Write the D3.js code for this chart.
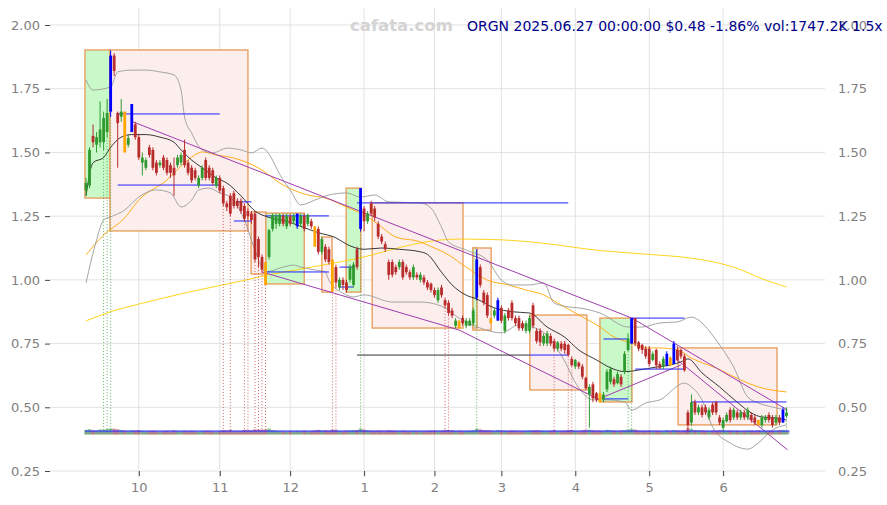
<!DOCTYPE html>
<html><head><meta charset="utf-8">
<script src="https://cdn.jsdelivr.net/npm/d3@7"></script>
<style>body{margin:0;background:#fff;}svg{display:block;font-family:"DejaVu Sans",sans-serif;}</style>
</head><body><svg id="c" width="887" height="505"></svg>
<script>
// ---- data ----
const openP = [1.35,1.37,1.565,1.53,1.54,1.54,1.58,1.66,1.88,1.655,1.64,1.66,1.53,1.58,1.61,1.56,1.46,1.44,1.52,1.51,1.46,1.45,1.48,1.47,1.45,1.44,1.45,1.46,1.51,1.46,1.44,1.43,1.37,1.40,1.47,1.44,1.43,1.37,1.40,1.36,1.30,1.33,1.34,1.31,1.31,1.29,1.27,1.26,1.26,1.16,1.09,1.07,1.09,1.20,1.22,1.22,1.25,1.21,1.25,1.23,1.21,1.22,1.25,1.22,1.23,1.21,1.20,1.11,1.13,1.12,1.08,1.05,0.97,1.00,0.99,1.00,0.98,1.12,1.20,1.28,1.23,1.30,1.28,1.22,1.17,1.14,1.07,1.07,1.05,1.05,1.07,1.05,1.03,1.01,1.02,1.00,1.01,0.99,0.985,0.96,0.92,0.97,0.92,0.91,0.88,0.82,0.84,0.85,0.82,0.82,0.83,0.93,1.05,0.95,0.94,0.85,0.86,0.84,0.89,0.80,0.88,0.91,0.85,0.85,0.83,0.80,0.80,0.90,0.80,0.80,0.75,0.75,0.78,0.76,0.73,0.75,0.75,0.745,0.69,0.66,0.675,0.66,0.615,0.55,0.59,0.555,0.555,0.53,0.57,0.60,0.61,0.595,0.62,0.64,0.725,0.75,0.85,0.755,0.745,0.73,0.73,0.686,0.725,0.67,0.66,0.665,0.695,0.67,0.725,0.725,0.70,0.48,0.44,0.52,0.48,0.50,0.50,0.46,0.51,0.52,0.46,0.42,0.445,0.49,0.46,0.48,0.46,0.48,0.46,0.47,0.46,0.45,0.43,0.45,0.47,0.46,0.44,0.46,0.44,0.465];
const highP = [1.40,1.52,1.61,1.58,1.70,1.66,1.71,1.90,1.89,1.66,1.71,1.66,1.57,1.69,1.62,1.57,1.50,1.48,1.53,1.52,1.47,1.47,1.49,1.48,1.46,1.48,1.49,1.50,1.55,1.47,1.45,1.44,1.41,1.45,1.48,1.45,1.44,1.41,1.41,1.37,1.31,1.34,1.35,1.32,1.32,1.30,1.28,1.27,1.27,1.17,1.10,1.07,1.20,1.26,1.26,1.26,1.26,1.26,1.26,1.26,1.26,1.26,1.26,1.26,1.24,1.21,1.21,1.17,1.14,1.13,1.08,1.06,1.01,1.01,1.00,1.06,1.07,1.13,1.36,1.29,1.27,1.31,1.29,1.23,1.18,1.15,1.08,1.08,1.06,1.08,1.08,1.06,1.04,1.06,1.03,1.03,1.02,1.00,0.99,0.97,0.97,0.98,0.93,0.92,0.89,0.85,0.84,0.86,0.85,0.85,0.89,1.12,1.06,0.96,0.95,0.85,0.89,0.93,0.90,0.87,0.89,0.92,0.86,0.86,0.84,0.84,0.86,0.91,0.81,0.81,0.79,0.80,0.79,0.77,0.76,0.76,0.76,0.75,0.70,0.69,0.68,0.67,0.62,0.59,0.60,0.56,0.555,0.56,0.65,0.66,0.62,0.64,0.63,0.72,0.79,0.85,0.85,0.76,0.75,0.74,0.74,0.72,0.73,0.68,0.70,0.72,0.70,0.76,0.74,0.73,0.71,0.49,0.55,0.53,0.51,0.51,0.51,0.50,0.52,0.525,0.47,0.46,0.48,0.50,0.50,0.49,0.49,0.49,0.50,0.48,0.47,0.45,0.47,0.47,0.48,0.47,0.47,0.47,0.50,0.50];
const lowP = [1.33,1.36,1.52,1.50,1.52,1.51,1.56,1.64,1.80,1.44,1.62,1.50,1.52,1.58,1.55,1.47,1.41,1.43,1.48,1.43,1.41,1.44,1.43,1.41,1.40,1.33,1.44,1.45,1.44,1.41,1.38,1.39,1.36,1.39,1.39,1.39,1.37,1.36,1.34,1.29,1.27,1.25,1.28,1.28,1.26,1.23,1.24,1.22,1.07,1.05,1.03,0.98,1.08,1.19,1.20,1.21,1.21,1.20,1.21,1.22,1.20,1.21,1.19,1.21,1.20,1.13,1.10,1.10,1.07,1.06,0.955,0.97,0.96,0.96,0.95,0.99,0.97,1.04,1.19,1.19,1.22,1.25,1.23,1.16,1.14,1.11,1.00,1.01,1.02,1.04,1.00,1.02,1.00,1.00,1.00,0.99,0.98,0.96,0.95,0.93,0.91,0.93,0.89,0.86,0.85,0.81,0.81,0.82,0.81,0.82,0.82,0.92,0.97,0.90,0.85,0.83,0.85,0.84,0.83,0.79,0.84,0.84,0.82,0.80,0.80,0.79,0.79,0.81,0.75,0.74,0.74,0.74,0.74,0.72,0.72,0.72,0.71,0.70,0.66,0.65,0.65,0.61,0.57,0.42,0.52,0.52,0.52,0.52,0.56,0.59,0.58,0.59,0.58,0.63,0.72,0.75,0.74,0.72,0.71,0.69,0.66,0.68,0.65,0.65,0.65,0.66,0.66,0.67,0.68,0.69,0.64,0.40,0.43,0.47,0.47,0.46,0.47,0.45,0.47,0.47,0.43,0.41,0.44,0.44,0.45,0.45,0.45,0.45,0.45,0.44,0.43,0.43,0.42,0.44,0.44,0.42,0.43,0.43,0.44,0.46];
const closeP = [1.38,1.51,1.54,1.56,1.59,1.635,1.655,1.88,1.82,1.615,1.66,1.50,1.556,1.69,1.56,1.48,1.48,1.47,1.49,1.44,1.42,1.46,1.44,1.42,1.42,1.41,1.48,1.49,1.45,1.42,1.39,1.40,1.40,1.44,1.40,1.40,1.38,1.40,1.35,1.30,1.285,1.26,1.29,1.29,1.27,1.24,1.25,1.235,1.08,1.09,1.04,0.98,1.195,1.255,1.25,1.255,1.22,1.25,1.22,1.25,1.26,1.25,1.20,1.255,1.21,1.13,1.11,1.16,1.08,1.07,0.955,0.99,1.00,0.98,0.96,1.05,1.06,1.05,1.36,1.23,1.26,1.26,1.245,1.17,1.15,1.12,1.02,1.02,1.03,1.07,1.01,1.03,1.01,1.05,1.01,1.02,0.99,0.97,0.96,0.94,0.96,0.94,0.90,0.87,0.86,0.84,0.81,0.83,0.84,0.84,0.88,1.08,0.98,0.91,0.86,0.83,0.88,0.92,0.84,0.86,0.85,0.85,0.83,0.81,0.81,0.83,0.85,0.82,0.76,0.755,0.78,0.79,0.75,0.73,0.755,0.73,0.725,0.705,0.665,0.685,0.66,0.62,0.575,0.58,0.535,0.53,0.52,0.55,0.64,0.65,0.59,0.63,0.59,0.71,0.77,0.85,0.75,0.73,0.725,0.70,0.67,0.71,0.665,0.655,0.69,0.71,0.665,0.75,0.685,0.70,0.645,0.43,0.52,0.48,0.50,0.47,0.48,0.49,0.48,0.48,0.44,0.45,0.47,0.45,0.49,0.46,0.48,0.46,0.49,0.45,0.44,0.43,0.46,0.46,0.45,0.43,0.46,0.44,0.49,0.48];
const volumeK = [2100,2400,1900,1800,2300,2200,2500,2700,2600,2300,2000,1800,1500,1900,1700,2000,1600,1400,1500,1700,1400,1300,1500,1600,1400,1800,1500,1400,1700,1500,1600,1400,1300,1500,1700,1500,1400,1300,1600,2000,1800,2100,1500,1400,1600,2100,2000,1900,2300,2200,2200,2300,2700,2000,1700,1500,1400,1300,1500,1400,1600,1500,1700,1400,1500,1900,2100,1800,1900,1700,2200,2100,1600,1500,1700,1800,1900,2000,2700,2200,1900,1700,1600,1800,1700,1500,1900,1800,1600,1500,1700,1500,1400,1600,1500,1400,1500,1600,1700,1800,1600,1700,2100,2000,1900,1600,1700,1500,1600,1700,1900,2700,2300,2000,1900,1800,1600,2000,1800,1700,1600,1800,1700,1500,1600,1500,1700,1900,1900,1800,1600,1500,1700,2000,1500,1600,1700,2000,2000,1600,1500,1900,2100,2200,1900,1700,1800,1600,2100,2000,1700,1600,1800,2000,2200,2500,2200,1800,1700,1600,1800,1500,1700,1600,1500,1900,1600,2000,1800,1700,1900,2800,2400,2000,1900,1800,1700,1600,1800,1700,1900,2000,1700,1800,1600,1700,1500,1600,1700,1800,1600,1900,1700,1600,1800,1700,1600,1900,2100,1747];
const blueIdx = [7,13,60,78,111,117,155,165,167,198];
const orangeIdx = [11,51,65,70,106,115,146,166,191];
const monthTickIdx = [15,38,58,79,99,118,139,160,181];
const monthLabels = ["10","11","12","1","2","3","4","5","6"];
const priceTicks = [0.25,0.5,0.75,1.0,1.25,1.5,1.75,2.0];
// moving average / band samples [candle index, price]
const maMid = [[0,1.33],[2,1.46],[5,1.48],[7,1.52],[10,1.56],[13,1.57],[17,1.57],[21,1.56],[25,1.54],[27,1.51],[30,1.47],[33,1.44],[37,1.40],[40,1.38],[44,1.33],[48,1.27],[52,1.245],[57,1.23],[61,1.21],[66,1.185],[71,1.165],[74,1.14],[79,1.12],[84,1.125],[89,1.12],[95,1.11],[97,1.10],[101,1.03],[104,0.98],[108,0.94],[111,0.925],[116,0.89],[121,0.875],[126,0.87],[131,0.815],[136,0.775],[140,0.725],[145,0.686],[149,0.655],[153,0.64],[157,0.646],[162,0.658],[166,0.666],[169,0.678],[171,0.69],[175,0.635],[180,0.58],[185,0.52],[189,0.478],[192,0.462],[196,0.458],[199,0.45]];
const bandUpper = [[0,1.784],[2,1.745],[7,1.757],[9,1.816],[13,1.823],[17,1.823],[21,1.816],[25,1.804],[27,1.745],[28,1.639],[30,1.576],[33,1.51],[36,1.498],[40,1.517],[44,1.51],[47,1.498],[50,1.517],[56,1.392],[58,1.353],[61,1.294],[65,1.313],[69,1.333],[74,1.341],[78,1.325],[82,1.333],[86,1.306],[95,1.302],[98,1.282],[101,1.207],[103,1.149],[108,1.117],[114,1.078],[118,0.999],[121,0.98],[126,0.98],[130,0.988],[133,0.909],[137,0.894],[140,0.89],[146,0.87],[154,0.815],[158,0.815],[163,0.831],[168,0.835],[172,0.854],[175,0.831],[179,0.764],[184,0.658],[188,0.54],[191,0.517],[195,0.501],[199,0.489]];
const bandLower = [[0,0.988],[3,1.156],[5,1.235],[7,1.247],[11,1.274],[15,1.325],[20,1.353],[24,1.341],[27,1.286],[30,1.313],[32,1.353],[35,1.36],[38,1.341],[41,1.325],[45,1.235],[48,1.117],[51,1.031],[56,1.05],[59,1.058],[61,1.05],[65,1.039],[68,1.031],[69,0.999],[73,0.948],[76,0.933],[79,0.941],[87,0.913],[95,0.913],[101,0.897],[106,0.85],[112,0.811],[118,0.792],[123,0.823],[129,0.803],[135,0.705],[140,0.576],[144,0.529],[148,0.529],[153,0.521],[155,0.489],[159,0.517],[163,0.529],[170,0.595],[172,0.58],[175,0.529],[178,0.423],[183,0.36],[188,0.336],[191,0.36],[195,0.411],[199,0.431]];
const maOrange = [[0,1.098],[5,1.176],[11,1.243],[15,1.313],[23,1.392],[28,1.459],[32,1.498],[33,1.502],[37,1.49],[42,1.478],[49,1.439],[56,1.372],[63,1.333],[68,1.321],[74,1.286],[80,1.247],[84,1.207],[88,1.168],[95,1.149],[97,1.137],[103,1.098],[108,1.05],[114,0.999],[120,0.98],[125,0.96],[130,0.941],[134,0.909],[139,0.87],[146,0.815],[150,0.776],[155,0.752],[159,0.733],[163,0.733],[168,0.725],[172,0.693],[179,0.654],[186,0.607],[191,0.58],[199,0.56]];
const maYellow = [[0,0.839],[7,0.875],[15,0.905],[27,0.945],[37,0.975],[44,0.995],[52,1.02],[60,1.04],[66,1.055],[79,1.09],[90,1.13],[97,1.15],[106,1.16],[118,1.157],[129,1.145],[146,1.115],[160,1.10],[172,1.085],[180,1.065],[186,1.04],[191,1.01],[199,0.972]];
// trend lines [i1,v1,i2,v2]
const trendLines = [[12.8,1.623,155.1,0.85],[155.1,0.85,199.3,0.489],[50,1.031,106,0.803],[106,0.803,146,0.529],[145,0.529,169,0.666],[168,0.686,199.3,0.333]];
// boxes [i1,i2,top,bottom,kind]
const boxes = [[-0.3,6.8,1.902,1.321,"g"],[6.8,46,1.902,1.192,"p"],[46.9,51.1,1.266,1.023,"p"],[51.1,62,1.262,0.984,"g"],[67,69.9,1.168,0.952,"p"],[73.9,78.1,1.36,0.952,"g"],[81.3,107.1,1.302,0.811,"p"],[109.9,115.1,1.125,0.803,"p"],[109.9,111.1,1.125,0.811,"g"],[126.1,142.3,0.862,0.568,"p"],[146,155.1,0.85,0.521,"g"],[168.2,196.3,0.733,0.431,"p"]];
// horizontal levels [i1,i2,price,color]
const levels = [[9,38,1.651,"b"],[9,38,1.372,"b"],[43,47,1.306,"b"],[42,47,1.231,"b"],[51,69,1.251,"b"],[51,69,1.031,"b"],[72,76,1.05,"b"],[72,76,0.972,"b"],[77,137,1.302,"b"],[77,126,0.705,"k"],[126,137,0.705,"b"],[147,154,0.768,"b"],[147,154,0.533,"b"],[155,170,0.85,"b"],[156,170,0.65,"b"],[172,199,0.521,"b"]];
const dottedGreen = [5,6,7,78,111,154,155,172,199];
const dottedRed = [39,41,45,46,48,49,50,51,70,71,102,103,133,137,138,142,171];
const volRefLevels = [1450,650];

// ---- drawing ----
const svg = d3.select("#c");
const x = d3.scaleLinear().domain([-10.23, 209.94]).range([50, 825]);
const y = d3.scaleLinear().domain([0.2226, 2.0667]).range([478, 8]);
const idx = d3.range(closeP.length);

// grid
svg.append("g").selectAll("line").data(priceTicks).join("line")
  .attr("x1",50).attr("x2",825).attr("y1",d=>y(d)).attr("y2",d=>y(d))
  .attr("stroke","#e2e2e2").attr("stroke-width",1);
svg.append("g").selectAll("line").data(monthTickIdx).join("line")
  .attr("x1",d=>x(d)).attr("x2",d=>x(d)).attr("y1",8).attr("y2",478)
  .attr("stroke","#e2e2e2").attr("stroke-width",1);

// axes
const axL = svg.append("g").attr("transform","translate(50,0)")
  .call(d3.axisLeft(y).tickValues(priceTicks).tickFormat(d3.format(".2f")).tickSize(5).tickPadding(5));
const axR = svg.append("g").attr("transform","translate(825,0)")
  .call(d3.axisRight(y).tickValues(priceTicks).tickFormat(d3.format(".2f")).tickSize(0).tickPadding(13));
const axB = svg.append("g").attr("transform","translate(0,471)")
  .call(d3.axisBottom(x).tickValues(monthTickIdx).tickFormat((d,i)=>monthLabels[i]).tickSize(5).tickPadding(7));
[axL,axR,axB].forEach(a=>{
  a.select(".domain").remove();
  a.selectAll("text").attr("fill","#808080").style("font-size","13px").style("font-family","DejaVu Sans");
  a.selectAll("line").attr("stroke","#444");
});

// boxes
svg.append("g").selectAll("rect").data(boxes).join("rect")
  .attr("x",d=>x(d[0])).attr("width",d=>x(d[1])-x(d[0]))
  .attr("y",d=>y(d[2])).attr("height",d=>y(d[3])-y(d[2]))
  .attr("fill",d=>d[4]==="g"?"#c9f9c9":"#fdeeee")
  .attr("stroke","#e8a060").attr("stroke-width",1.4);

// lines
const ln = d3.line().x(d=>x(d[0])).y(d=>y(d[1])).curve(d3.curveMonotoneX);
const drawLine=(data,color,w)=>svg.append("path").datum(data).attr("d",ln).attr("fill","none").attr("stroke",color).attr("stroke-width",w);
drawLine(maYellow,"#ffd000",0.9);
drawLine(maOrange,"#ffa500",0.9);
drawLine(bandUpper,"#9a9a9a",0.9);
drawLine(bandLower,"#9a9a9a",0.9);
drawLine(maMid,"#222",0.9);

svg.append("g").selectAll("line").data(trendLines).join("line")
  .attr("x1",d=>x(d[0])).attr("y1",d=>y(d[1])).attr("x2",d=>x(d[2])).attr("y2",d=>y(d[3]))
  .attr("stroke","#a03cb0").attr("stroke-width",1);

svg.append("g").selectAll("line").data(levels).join("line")
  .attr("x1",d=>x(d[0])).attr("x2",d=>x(d[1])).attr("y1",d=>y(d[2])).attr("y2",d=>y(d[2]))
  .attr("stroke",d=>d[3]==="b"?"#2020ff":"#333").attr("stroke-width",1);

// dotted verticals
const volBase = 434.7;
const dot = svg.append("g");
dot.selectAll("line.g").data(dottedGreen).join("line")
  .attr("x1",d=>x(d)).attr("x2",d=>x(d)).attr("y1",d=>y(lowP[d])).attr("y2",volBase-3)
  .attr("stroke","#3a9a3a").attr("stroke-dasharray","1,2").attr("stroke-width",0.8);
dot.selectAll("line.r").data(dottedRed).join("line")
  .attr("x1",d=>x(d)).attr("x2",d=>x(d)).attr("y1",d=>y(lowP[d])).attr("y2",volBase-3)
  .attr("stroke","#c04040").attr("stroke-dasharray","1,2").attr("stroke-width",0.8);

// candles
const colorOf = i => blueIdx.includes(i) ? "#0000ff" : orangeIdx.includes(i) ? "#ffa500" : (closeP[i] >= openP[i] ? "#2e9a2e" : "#b82c2c");
const cg = svg.append("g");
cg.selectAll("line").data(idx).join("line")
  .attr("x1",i=>x(i)).attr("x2",i=>x(i)).attr("y1",i=>y(highP[i])).attr("y2",i=>y(lowP[i]))
  .attr("stroke",colorOf).attr("stroke-width",1);
cg.selectAll("rect").data(idx).join("rect")
  .attr("x",i=>x(i)-1.4).attr("width",2.8)
  .attr("y",i=>y(Math.max(openP[i],closeP[i])))
  .attr("height",i=>Math.max(1,Math.abs(y(openP[i])-y(closeP[i]))))
  .attr("fill",colorOf);

// volume
const vh = d3.scaleLinear().domain([0,2600]).range([0,6]);
svg.append("g").selectAll("rect").data(idx).join("rect")
  .attr("x",i=>x(i)-1.75).attr("width",3.5)
  .attr("y",i=>volBase-vh(volumeK[i])).attr("height",i=>vh(volumeK[i]))
  .attr("fill",i=>closeP[i]>=openP[i]?"#2e9a2e":"#b82c2c").attr("opacity",0.55);
svg.append("line").attr("x1",x(0)-1).attr("x2",x(199)+3).attr("y1",volBase-vh(volRefLevels[0])).attr("y2",volBase-vh(volRefLevels[0]))
  .attr("stroke","#3030ff").attr("stroke-width",2).attr("opacity",0.7);
svg.append("line").attr("x1",x(0)-1).attr("x2",x(199)+3).attr("y1",volBase-vh(volRefLevels[1])).attr("y2",volBase-vh(volRefLevels[1]))
  .attr("stroke","#888").attr("stroke-width",1.6).attr("opacity",0.7);

// titles
svg.append("text").attr("x",350).attr("y",31).text("cafata.com")
  .attr("fill","#d4d4d4").style("font-size","16.5px").style("font-weight","bold");
svg.append("text").attr("x",467).attr("y",31).text("ORGN 2025.06.27 00:00:00 $0.48 -1.86% vol:1747.2K 1.5x")
  .attr("fill","#00008b").style("font-size","14px");
</script></body></html>
